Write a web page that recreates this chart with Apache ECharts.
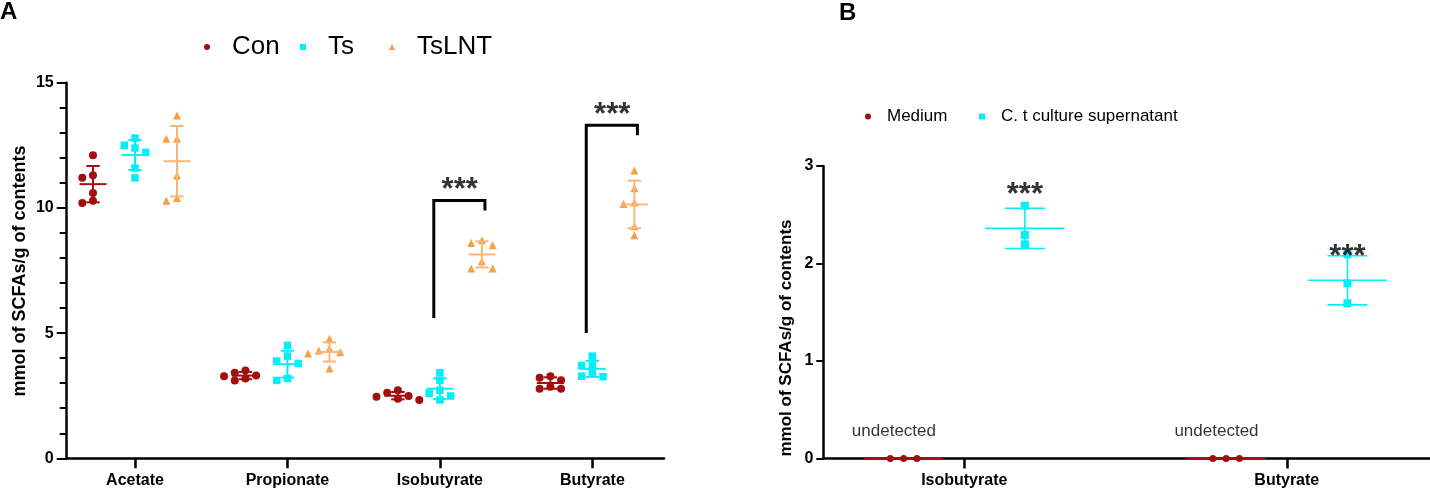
<!DOCTYPE html>
<html><head><meta charset="utf-8">
<script src="https://cdn.jsdelivr.net/npm/echarts@6/dist/echarts.min.js"></script>
<style>html,body{margin:0;padding:0;background:#fff}#c{width:1430px;height:489px}</style>
</head><body><div id="c"></div>
<script>
// ---------- data ----------
const categoriesA = ['Acetate', 'Propionate', 'Isobutyrate', 'Butyrate'];
const conA = [
  [12.10, 11.30, 11.20, 10.60, 10.20, 10.29],
  [3.42, 3.11, 3.31, 3.51, 3.19, 3.28],
  [2.62, 2.46, 2.72, 2.38, 2.49, 2.33],
  [3.28, 3.22, 3.12, 2.86, 2.78, 2.78]
];
const tsA = [
  [12.79, 12.39, 12.50, 12.22, 11.59, 11.20],
  [4.51, 4.08, 3.88, 3.79, 3.11, 3.19],
  [3.42, 3.12, 2.72, 2.59, 2.49, 2.33],
  [4.08, 3.71, 3.71, 3.39, 3.26, 3.28]
];
const tslntA = [
  [13.69, 12.76, 12.76, 11.29, 10.29, 10.40],
  [4.77, 4.38, 4.19, 4.24, 4.31, 3.59],
  [8.60, 8.71, 8.51, 7.87, 7.58, 7.58],
  [11.49, 10.78, 10.16, 10.22, 9.27, 8.91]
];
const yTicksA = [0, 5, 10, 15];
// significance brackets (category index, y of left leg end, y of right leg end, y of bar)
const sigA = [
  { cat: 2, from: 5.6, to: 9.9, top: 10.3, text: '***' },
  { cat: 3, from: 5.0, to: 12.9, top: 13.3, text: '***' }
];

const categoriesB = ['Isobutyrate', 'Butyrate'];
const mediumB = [[0, 0, 0], [0, 0, 0]];
const ctB = [[2.593, 2.292, 2.197], [2.094, 1.797, 1.592]];
const yTicksB = [0, 1, 2, 3];
const sigB = [{ cat: 0, y: 2.78, text: '***' }, { cat: 1, y: 2.14, text: '***' }];
const undetectedB = [{ cat: 0, y: 0.275, text: 'undetected' }, { cat: 1, y: 0.275, text: 'undetected' }];

// ---------- layout ----------
const gA = { left: 66.7, top: 82.7, width: 597.3, height: 375.6 };
const xA = { min: 0.552, max: 4.47 };
const gB = { left: 823.3, top: 166, width: 606.7, height: 292.5 };
const xB = { min: 0.563, max: 2.444 };
const pxXA = gA.width / (xA.max - xA.min), pxYA = gA.height / 15;
const pxXB = gB.width / (xB.max - xB.min), pxYB = gB.height / 3;

const RED = '#A30F0F', CYAN = '#00F0FA', ORANGE = '#F8A046', ORANGE_L = '#FBB676';
const FONT = 'Liberation Sans, Arial, sans-serif';

function mean(a) { return a.reduce((s, v) => s + v, 0) / a.length; }
function sd(a) { const m = mean(a); return a.length < 2 ? 0 : Math.sqrt(a.reduce((s, v) => s + (v - m) * (v - m), 0) / (a.length - 1)); }

// beeswarm-like horizontal spreading of overlapping points
function swarm(values, pxY, stepPx, sizePx) {
  const idx = values.map((v, i) => i).sort((a, b) => values[b] - values[a]);
  const placed = [], off = new Array(values.length).fill(0);
  const cands = [0, -1, 1, -0.5, 0.5, -1.5, 1.5, -2, 2];
  for (const i of idx) {
    for (const c of cands) {
      const dx = c * stepPx;
      const ok = placed.every(p => Math.hypot(p.dx - dx, (p.v - values[i]) * pxY) >= sizePx);
      if (ok) { off[i] = dx; placed.push({ dx, v: values[i] }); break; }
    }
  }
  return off;
}

function errRender(halfMean, halfCap, color, width) {
  return function (params, api) {
    const x = api.value(0), m = api.value(1), s = api.value(2);
    const c = api.coord([x, m]), t = api.coord([x, m + s]), b = api.coord([x, m - s]);
    const style = { stroke: color, lineWidth: width };
    return {
      type: 'group', children: [
        { type: 'line', shape: { x1: c[0] - halfMean, y1: c[1], x2: c[0] + halfMean, y2: c[1] }, style },
        { type: 'line', shape: { x1: t[0], y1: t[1], x2: b[0], y2: b[1] }, style },
        { type: 'line', shape: { x1: t[0] - halfCap, y1: t[1], x2: t[0] + halfCap, y2: t[1] }, style },
        { type: 'line', shape: { x1: b[0] - halfCap, y1: b[1], x2: b[0] + halfCap, y2: b[1] }, style }
      ]
    };
  };
}

const series = [];
// Panel A groups
const groupsA = [
  { name: 'Con', data: conA, off: -0.2755, symbol: 'circle', size: 8, color: RED, lineColor: RED },
  { name: 'Ts', data: tsA, off: 0, symbol: 'rect', size: 7.5, color: CYAN, lineColor: CYAN },
  { name: 'TsLNT', data: tslntA, off: 0.2755, symbol: 'triangle', size: 8, color: ORANGE, lineColor: ORANGE_L }
];
groupsA.forEach(g => {
  const pts = [], errs = [];
  g.data.forEach((vals, i) => {
    const cx = i + 1 + g.off;
    const jit = swarm(vals, pxYA, 10.7, 7.5);
    vals.forEach((v, k) => pts.push([cx + jit[k] / pxXA, v]));
    errs.push([cx, mean(vals), sd(vals)]);
  });
  series.push({ name: g.name, type: 'scatter', xAxisIndex: 0, yAxisIndex: 0, symbol: g.symbol, symbolSize: g.size,
    itemStyle: { color: g.color, opacity: 1 }, data: pts, z: 3, silent: true });
  series.push({ name: g.name + '_err', type: 'custom', xAxisIndex: 0, yAxisIndex: 0, clip: false,
    renderItem: errRender(13.5, 6.7, g.lineColor, 2), encode: { x: 0, y: 1 }, data: errs, z: 4, silent: true });
});
// brackets A
series.push({
  name: 'sigA', type: 'custom', xAxisIndex: 0, yAxisIndex: 0, clip: false, silent: true, z: 5,
  encode: { x: 0, y: 3 },
  data: sigA.map(s => [s.cat + 1, s.from, s.to, s.top]),
  renderItem: function (params, api) {
    const c = api.value(0), xl = c - 0.04, xr = c + 0.2755 + 0.02;
    const p1 = api.coord([xl, api.value(1)]), p2 = api.coord([xl, api.value(3)]);
    const p3 = api.coord([xr, api.value(3)]), p4 = api.coord([xr, api.value(2)]);
    return { type: 'polyline', shape: { points: [p1, p2, p3, p4] }, style: { stroke: '#000', lineWidth: 3, fill: null } };
  }
});
series.push({
  name: 'starsA', type: 'scatter', xAxisIndex: 0, yAxisIndex: 0, symbolSize: 0, silent: true, z: 6,
  data: sigA.map(s => ({ value: [s.cat + 1 + 0.13, s.top + 0.7], label: { formatter: s.text } })),
  label: { show: true, position: 'inside', color: '#000', fontSize: 31, fontWeight: 'bold', fontFamily: FONT, offset: [0, 8] }
});

// Panel B groups
const groupsB = [
  { name: 'Medium', data: mediumB, off: -0.188, symbol: 'circle', size: 7, color: RED },
  { name: 'C. t culture supernatant', data: ctB, off: 0.188, symbol: 'rect', size: 8, color: CYAN }
];
groupsB.forEach(g => {
  const pts = [], errs = [];
  g.data.forEach((vals, i) => {
    const cx = i + 1 + g.off;
    const jit = swarm(vals, pxYB, 13.3, 7);
    vals.forEach((v, k) => pts.push([cx + jit[k] / pxXB, v]));
    errs.push([cx, mean(vals), sd(vals)]);
  });
  series.push({ name: g.name, type: 'scatter', xAxisIndex: 1, yAxisIndex: 1, symbol: g.symbol, symbolSize: g.size,
    itemStyle: { color: g.color, opacity: 1 }, data: pts, z: 3, silent: true });
  series.push({ name: g.name + '_err', type: 'custom', xAxisIndex: 1, yAxisIndex: 1, clip: false,
    renderItem: errRender(39.5, 20, g.color, 1.6), encode: { x: 0, y: 1 }, data: errs, z: 4, silent: true });
});
series.push({
  name: 'starsB', type: 'scatter', xAxisIndex: 1, yAxisIndex: 1, symbolSize: 0, silent: true, z: 6,
  data: sigB.map(s => ({ value: [s.cat + 1 + 0.188, s.y], label: { formatter: s.text } })),
  label: { show: true, position: 'inside', color: '#000', fontSize: 31, fontWeight: 'bold', fontFamily: FONT, offset: [0, 8] }
});
series.push({
  name: 'undetB', type: 'scatter', xAxisIndex: 1, yAxisIndex: 1, symbolSize: 0, silent: true, z: 6,
  data: undetectedB.map(s => ({ value: [s.cat + 1 - 0.188 - 0.03, s.y], label: { formatter: s.text } })),
  label: { show: true, position: 'inside', color: '#000', fontSize: 17, fontFamily: FONT }
});

const axisLine = { show: true, onZero: false, lineStyle: { color: '#000', width: 2.5 } };
const boldLbl = { color: '#000', fontSize: 16, fontWeight: 'bold', fontFamily: FONT };

function legendItem(name, icon, w, h, left, top, fs) {
  return {
    data: [{ name, icon }], left, top, padding: 0, itemWidth: w, itemHeight: h, selectedMode: false,
    textStyle: { color: '#000', fontSize: fs, fontFamily: FONT, padding: [0, 0, 0, fs > 20 ? 17 : 11] }
  };
}

const option = {
  backgroundColor: '#fff',
  animation: false,
  grid: [
    { left: gA.left, top: gA.top, width: gA.width, height: gA.height, containLabel: false },
    { left: gB.left, top: gB.top, width: gB.width, height: gB.height, containLabel: false }
  ],
  legend: [
    legendItem('Con', 'circle', 6, 6, 204, 34, 26),
    legendItem('Ts', 'rect', 6, 6, 300, 34, 26),
    legendItem('TsLNT', 'triangle', 6, 6, 389, 34, 26),
    legendItem('Medium', 'circle', 6, 6, 865, 108, 17),
    legendItem('C. t culture supernatant', 'rect', 6, 6, 979, 108, 17)
  ],
  xAxis: [
    { type: 'value', gridIndex: 0, min: xA.min, max: xA.max, axisLine, splitLine: { show: false },
      axisTick: { show: true, customValues: [1, 2, 3, 4], length: 10, lineStyle: { color: '#000', width: 2.5 } },
      axisLabel: { ...boldLbl, customValues: [1, 2, 3, 4], margin: 14, formatter: v => categoriesA[Math.round(v) - 1] } },
    { type: 'value', gridIndex: 1, min: xB.min, max: xB.max, axisLine, splitLine: { show: false },
      axisTick: { show: true, customValues: [1, 2], length: 10, lineStyle: { color: '#000', width: 2.5 } },
      axisLabel: { ...boldLbl, customValues: [1, 2], margin: 14, formatter: v => categoriesB[Math.round(v) - 1] } }
  ],
  yAxis: [
    { type: 'value', gridIndex: 0, min: 0, max: 15, interval: 5, axisLine, splitLine: { show: false },
      axisTick: { show: true, length: 10, lineStyle: { color: '#000', width: 2 } },
      minorTick: { show: true, splitNumber: 5, length: 7, lineStyle: { color: '#000', width: 2 } },
      axisLabel: { ...boldLbl, customValues: yTicksA, margin: 13 } },
    { type: 'value', gridIndex: 1, min: 0, max: 3, interval: 1, axisLine, splitLine: { show: false },
      axisTick: { show: true, length: 7, lineStyle: { color: '#000', width: 2 } },
      axisLabel: { ...boldLbl, customValues: yTicksB, margin: 10 } }
  ],
  graphic: [
    { type: 'text', left: 0, top: 0, style: { text: 'A', fontSize: 24, fontWeight: 'bold', fontFamily: FONT, fill: '#000' } },
    { type: 'text', left: 839, top: 1, style: { text: 'B', fontSize: 24, fontWeight: 'bold', fontFamily: FONT, fill: '#000' } },
    { type: 'text', x: 20, y: 271, rotation: Math.PI / 2,
      style: { text: 'mmol of SCFAs/g of contents', fontSize: 18, fontWeight: 'bold', fontFamily: FONT, fill: '#000', align: 'center', verticalAlign: 'middle' } },
    { type: 'text', x: 786, y: 338, rotation: Math.PI / 2,
      style: { text: 'mmol of SCFAs/g of contents', fontSize: 17, fontWeight: 'bold', fontFamily: FONT, fill: '#000', align: 'center', verticalAlign: 'middle' } }
  ],
  series
};

const chart = echarts.init(document.getElementById('c'), null, { renderer: 'canvas' });
chart.setOption(option);
</script>
</body></html>
